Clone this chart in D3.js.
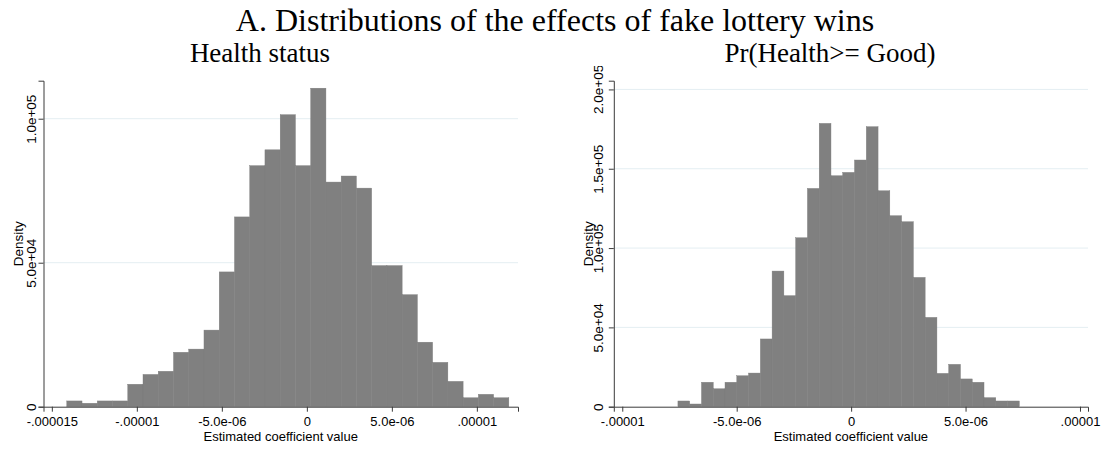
<!DOCTYPE html>
<html>
<head>
<meta charset="utf-8">
<script src="https://cdn.jsdelivr.net/npm/d3@7"></script>
<style>
  html, body { margin: 0; padding: 0; background: #fff; }
  svg { display: block; }
  .ax text { font-family: "Liberation Sans", Arial, sans-serif; font-size: 13px; fill: #000; }
</style>
</head>
<body>
<svg id="chart" width="1110" height="450"></svg>
<script>
// ---------- data ----------
const mainTitle = "A. Distributions of the effects of fake lottery wins";
const panelTitles = ["Health status", "Pr(Health>= Good)"];
const xAxisTitle = "Estimated coefficient value";
const yAxisTitle = "Density";

// Panel 1: Health status
const leftBinStart = -14.12e-6;
const leftBinWidth = 0.8966e-6;
const leftDensity = [2.0e3, 1.2e3, 2.0e3, 2.0e3, 7.8e3, 11.2e3, 12.3e3, 18.9e3, 20.0e3, 26.6e3,
  46.8e3, 65.9e3, 83.7e3, 89.2e3, 101.4e3, 83.7e3, 110.6e3, 78.0e3, 80.1e3, 75.9e3,
  49.0e3, 49.0e3, 38.9e3, 22.4e3, 15.4e3, 8.8e3, 3.1e3, 4.3e3, 3.1e3];
const leftXTicks = [-0.000015, -0.00001, -0.000005, 0, 0.000005, 0.00001];
const leftXTickLabels = ["-.000015", "-.00001", "-5.0e-06", "0", "5.0e-06", ".00001"];
const leftYTicks = [0, 50000, 100000];
const leftYTickLabels = ["0", "5.0e+04", "1.0e+05"];
const leftXDomain = [-15.49e-6, 12.42e-6];
const leftYDomain = [0, 113200];

// Panel 2: Pr(Health >= Good)
const rightBinStart = -7.568e-6;
const rightBinWidth = 0.5144e-6;
const rightDensity = [3.6e3, 1.7e3, 15.4e3, 11.3e3, 15.4e3, 19.5e3, 21.2e3, 42.7e3, 85.5e3, 70.0e3,
  106.5e3, 137.6e3, 178.6e3, 145.6e3, 147.7e3, 155.5e3, 176.5e3, 136.1e3, 120.4e3, 116.6e3,
  81.5e3, 56.3e3, 21.0e3, 26.7e3, 17.5e3, 15.4e3, 5.7e3, 3.6e3, 3.6e3];
const rightXTicks = [-0.00001, -0.000005, 0, 0.000005, 0.00001];
const rightXTickLabels = ["-.00001", "-5.0e-06", "0", "5.0e-06", ".00001"];
const rightYTicks = [0, 50000, 100000, 150000, 200000];
const rightYTickLabels = ["0", "5.0e+04", "1.0e+05", "1.5e+05", "2.0e+05"];
const rightXDomain = [-10.37e-6, 10.35e-6];
const rightYDomain = [0, 205500];

// ---------- drawing ----------
const svg = d3.select("#chart");
const serif = '"Liberation Serif", "Times New Roman", serif';
const sans = '"Liberation Sans", Arial, sans-serif';

svg.append("text").attr("x", 555).attr("y", 31)
  .attr("text-anchor", "middle").style("font-family", serif).style("font-size", "32px")
  .text(mainTitle);

// the top y tick label of the right panel is cut off in the original
svg.append("defs").append("clipPath").attr("id", "rclip")
  .append("rect").attr("x", 560).attr("y", 66).attr("width", 60).attr("height", 360);

function panel(cfg) {
  const x = d3.scaleLinear().domain(cfg.xDomain).range([cfg.left, cfg.right]);
  const y = d3.scaleLinear().domain(cfg.yDomain).range([cfg.bottom, cfg.top]);
  const g = svg.append("g");

  // gridlines
  g.append("g").selectAll("line").data(cfg.yTicks.filter(d => d > 0)).join("line")
    .attr("x1", cfg.left).attr("x2", cfg.right)
    .attr("y1", d => y(d)).attr("y2", d => y(d))
    .attr("stroke", "#e4eef2").attr("stroke-width", 1);

  // bars
  const bins = cfg.density.map((d, i) => ({
    x0: cfg.binStart + i * cfg.binWidth,
    x1: cfg.binStart + (i + 1) * cfg.binWidth,
    v: d
  }));
  g.append("g").selectAll("rect").data(bins).join("rect")
    .attr("x", d => x(d.x0)).attr("width", d => x(d.x1) - x(d.x0))
    .attr("y", d => y(d.v)).attr("height", d => y(0) - y(d.v))
    .attr("fill", "#808080").attr("stroke", "#7a7a7a").attr("stroke-width", 0.4);

  // x axis
  const xAxis = d3.axisBottom(x).tickValues(cfg.xTicks)
    .tickFormat((d, i) => cfg.xTickLabels[i]).tickSizeOuter(0).tickSize(5);
  const gx = g.append("g").attr("class", "ax")
    .attr("transform", `translate(0,${cfg.bottom})`).call(xAxis);
  gx.select(".domain").attr("stroke", "#3a3a3a");
  gx.selectAll(".tick line").attr("stroke", "#3a3a3a");
  gx.selectAll(".tick text").attr("y", 426.5 - cfg.bottom).attr("dy", null);

  // y axis
  const yAxis = d3.axisLeft(y).tickValues(cfg.yTicks)
    .tickFormat((d, i) => cfg.yTickLabels[i]).tickSizeOuter(0).tickSize(5);
  const gy = g.append("g").attr("class", "ax")
    .attr("transform", `translate(${cfg.left},0)`).call(yAxis);
  gy.select(".domain").attr("stroke", "#3a3a3a");
  gy.selectAll(".tick line").attr("stroke", "#3a3a3a");
  gy.selectAll(".tick text")
    .attr("x", null).attr("dy", null)
    .attr("text-anchor", "middle")
    .style("font-size", "13.5px")
    .attr("transform", `translate(${cfg.yLabelBase - cfg.left},0) rotate(-90)`);

  // axis titles
  g.append("text")
    .attr("x", (cfg.left + cfg.right) / 2).attr("y", 441)
    .attr("text-anchor", "middle")
    .style("font-family", sans).style("font-size", "13px")
    .text(xAxisTitle);
  g.append("text")
    .attr("transform", `translate(${cfg.densityBase},${(cfg.top + cfg.bottom) / 2}) rotate(-90)`)
    .attr("text-anchor", "middle")
    .style("font-family", sans).style("font-size", "13.5px")
    .text(yAxisTitle);

  // panel title
  svg.append("text").attr("x", cfg.titleX).attr("y", 62)
    .attr("text-anchor", "middle").style("font-family", serif).style("font-size", "27px")
    .text(cfg.title);
  return { gy, y };
}

panel({
  title: panelTitles[0], titleX: 260,
  left: 43.5, right: 518, top: 80.7, bottom: 406.7,
  xDomain: leftXDomain, yDomain: leftYDomain,
  binStart: leftBinStart, binWidth: leftBinWidth, density: leftDensity,
  xTicks: leftXTicks, xTickLabels: leftXTickLabels,
  yTicks: leftYTicks, yTickLabels: leftYTickLabels,
  yLabelBase: 35.7, densityBase: 22.7
});

const rp = panel({
  title: panelTitles[1], titleX: 830,
  left: 613.8, right: 1088, top: 80.7, bottom: 406.7,
  xDomain: rightXDomain, yDomain: rightYDomain,
  binStart: rightBinStart, binWidth: rightBinWidth, density: rightDensity,
  xTicks: rightXTicks, xTickLabels: rightXTickLabels,
  yTicks: rightYTicks, yTickLabels: rightYTickLabels,
  yLabelBase: 603.3, densityBase: 592.7
});
// top label clipped, as in the reference
rp.gy.selectAll(".tick").filter(d => d === rightYTicks[4]).select("text").remove();
svg.append("g").attr("clip-path", "url(#rclip)")
  .append("text")
  .attr("transform", `translate(603.3,${rp.y(rightYTicks[4])}) rotate(-90)`)
  .attr("text-anchor", "middle")
  .style("font-family", sans).style("font-size", "13.5px")
  .text(rightYTickLabels[4]);
</script>
</body>
</html>
